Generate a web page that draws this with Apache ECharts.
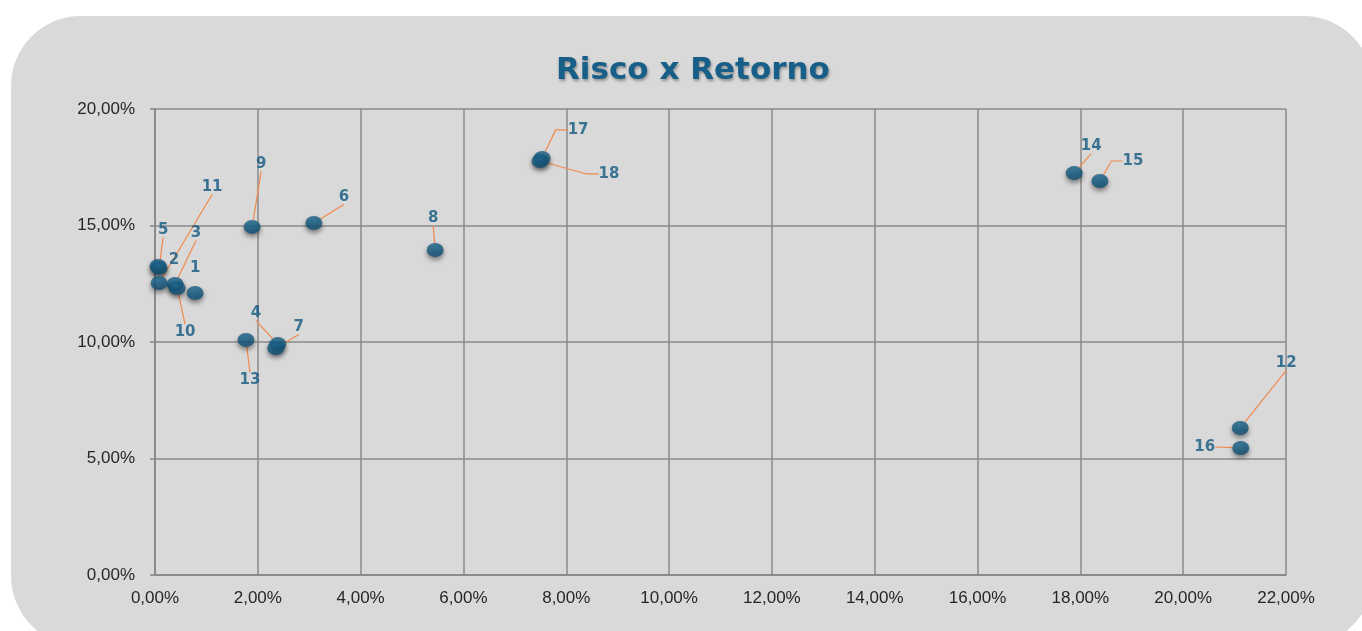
<!DOCTYPE html>
<html>
<head>
<meta charset="utf-8">
<script src="https://cdn.jsdelivr.net/npm/echarts@6/dist/echarts.min.js"></script>
<style>
html,body{margin:0;padding:0;background:#ffffff;}
#chart{width:1362px;height:631px;}
</style>
</head>
<body>
<div id="chart"></div>
<script>
// ---- data ----
const pointNames = ['1','2','3','4','5','6','7','8','9','10','11','12','13','14','15','16','17','18'];
const riskPct   = [0.78, 0.06, 0.39, 2.39, 0.08, 3.09, 2.35, 5.45, 1.89, 0.43, 0.08, 21.11, 1.77, 17.88, 18.38, 21.12, 7.53, 7.49];
const returnPct = [12.10, 13.26, 12.49, 9.91, 13.18, 15.11, 9.74, 13.95, 14.94, 12.32, 12.53, 6.31, 10.09, 17.25, 16.91, 5.45, 17.90, 17.77];
const xTicks = [0, 2, 4, 6, 8, 10, 12, 14, 16, 18, 20, 22];
const yTicks = [0, 5, 10, 15, 20];

// ---- label placement (layout, not data) ----
const labelDx = [0, 16, 21, -22, 4, 30, 23, -2, 9, 8, 53, 46, 4, 17, 33, -36, 36, 69];
const labelDy = [-25, -6, -51, -31, -38, -26, -21, -32, -63, 44, -96, -65, 40, -27, -20, -1, -28, 13];
const leaderShow  = [false, false, true, true, true, true, true, true, true, true, true, true, true, true, true, true, true, true];
const leaderElbow = [0, 0, 0, 0, 0, 0, 0, 0, 0, 0, 0, 0, 0, 0, 11, 0, 12, 12];

const fmt = v => v.toFixed(2).replace('.', ',') + '%';

const seriesData = pointNames.map((n, i) => ({
  name: n,
  value: [riskPct[i], returnPct[i]],
  labelLine: { show: leaderShow[i], length2: leaderElbow[i] }
}));

const chart = echarts.init(document.getElementById('chart'), null, { renderer: 'canvas' });
chart.setOption({
  backgroundColor: '#ffffff',
  animation: false,
  graphic: [{
    type: 'rect',
    z: -10,
    silent: true,
    shape: { x: 11, y: 16, width: 1362, height: 630, r: 70 },
    style: { fill: '#d9d9d9' }
  }],
  title: {
    text: 'Risco x Retorno',
    left: 551,
    top: 50,
    textStyle: {
      fontFamily: 'DejaVu Sans',
      fontWeight: 'bold',
      fontSize: 31,
      color: '#175f88',
      textShadowColor: 'rgba(0,0,0,0.35)',
      textShadowBlur: 3,
      textShadowOffsetX: 1,
      textShadowOffsetY: 2
    }
  },
  grid: { left: 155, right: 76, top: 109, bottom: 56, containLabel: false },
  xAxis: {
    type: 'value',
    min: xTicks[0],
    max: xTicks[xTicks.length - 1],
    interval: xTicks[1] - xTicks[0],
    axisLine: { show: true, lineStyle: { color: '#858585', width: 1.5 } },
    axisTick: { show: false },
    axisLabel: { formatter: fmt, fontFamily: 'Liberation Sans', fontSize: 17, color: '#262626', margin: 15 },
    splitLine: { show: true, lineStyle: { color: '#8a8a8a', width: 1.5 } }
  },
  yAxis: {
    type: 'value',
    min: yTicks[0],
    max: yTicks[yTicks.length - 1],
    interval: yTicks[1] - yTicks[0],
    axisLine: { show: true, lineStyle: { color: '#858585', width: 1.5 } },
    axisTick: { show: true, length: 5, lineStyle: { color: '#858585', width: 1.5 } },
    axisLabel: { formatter: fmt, fontFamily: 'Liberation Sans', fontSize: 17, color: '#262626', margin: 20 },
    splitLine: { show: true, lineStyle: { color: '#8a8a8a', width: 1.5 } }
  },
  series: [{
    type: 'scatter',
    symbol: 'circle',
    symbolSize: [17, 14],
    data: seriesData,
    itemStyle: {
      color: {
        type: 'radial', x: 0.45, y: 0.35, r: 0.7,
        colorStops: [{ offset: 0, color: '#1c6a93' }, { offset: 1, color: '#0f4b6e' }]
      },
      shadowColor: 'rgba(0,0,0,0.55)',
      shadowBlur: 5,
      shadowOffsetY: 3
    },
    label: {
      show: true,
      position: 'inside',
      formatter: p => p.name,
      fontFamily: 'DejaVu Sans',
      fontWeight: 'bold',
      fontSize: 15,
      color: '#12577f'
    },
    labelLine: {
      show: true,
      lineStyle: { color: '#ef8a4c', width: 1.2 }
    },
    labelLayout: p => ({ dx: labelDx[p.dataIndex], dy: labelDy[p.dataIndex] })
  }]
});
</script>
</body>
</html>
